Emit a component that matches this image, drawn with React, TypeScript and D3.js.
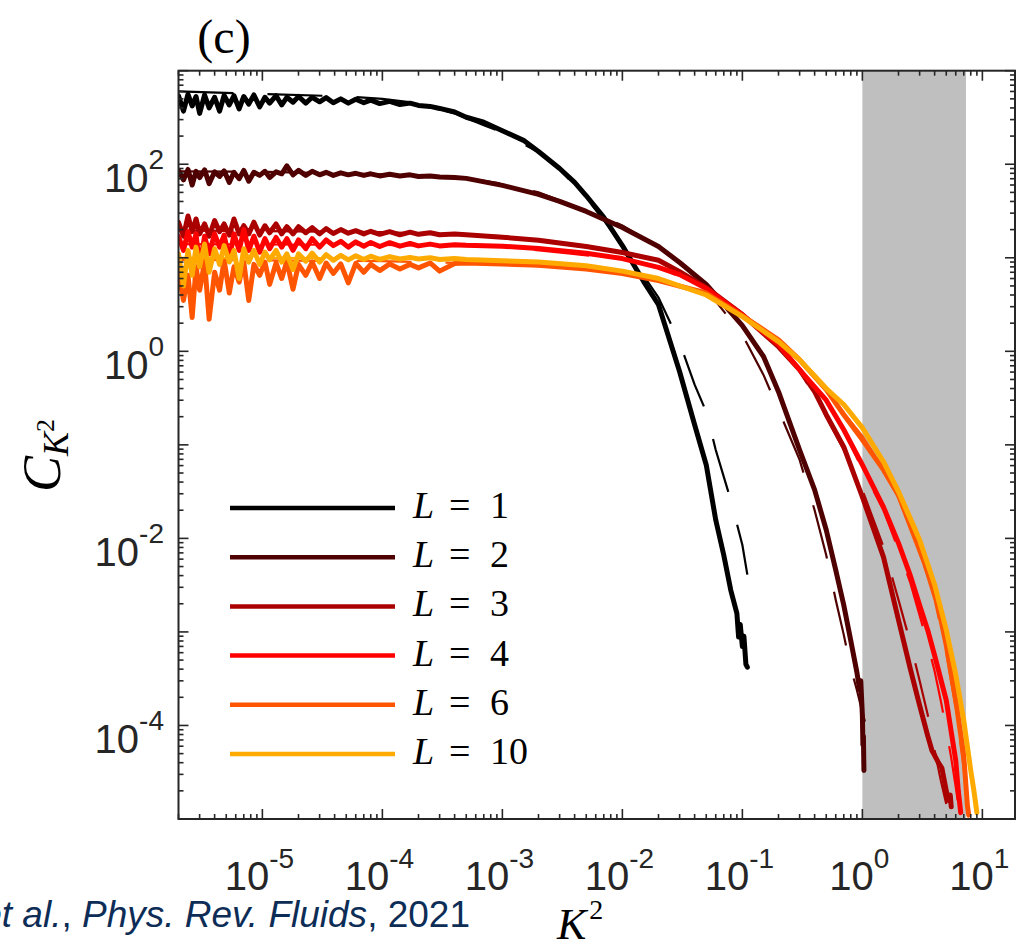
import React from 'react';
import * as d3 from 'd3';

// ---------- data ----------
// shared K^2 sampling of the noisy low-K^2 plateau
const plateauK2 = [2e-6, 2.2e-6, 2.4e-6, 2.6e-6, 2.8e-6, 3e-6, 3.3e-6, 3.6e-6, 4e-6, 4.4e-6, 4.8e-6, 5.3e-6,
  5.8e-6, 6.4e-6, 7e-6, 7.7e-6, 8.5e-6, 9.5e-6, 1.05e-5, 1.15e-5, 1.3e-5, 1.45e-5, 1.6e-5, 1.8e-5,
  2e-5, 2.3e-5, 2.6e-5, 3e-5, 3.4e-5, 3.9e-5, 4.5e-5, 5.2e-5, 6e-5, 7e-5, 8e-5, 9.5e-5,
  1.15e-4, 1.4e-4, 1.7e-4, 2e-4, 2.5e-4, 3e-4, 4e-4];

const L1_plateau = [540, 370, 560, 420, 530, 350, 550, 400, 520, 370, 545, 430, 540, 390, 530, 440, 550, 410, 520, 450, 540, 430, 520, 460, 530, 450, 520, 465, 515, 455, 500, 450, 495, 455, 485, 445, 470, 435, 450, 425, 415, 395, 362];
const L1_tail: [number, number][] = [[5e-4, 318], [7e-4, 281], [1e-3, 228], [1.5e-3, 180], [2e-3, 137], [3e-3, 90], [4e-3, 64], [5e-3, 46], [7e-3, 27], [1e-2, 13.5], [1.5e-2, 5.6], [2e-2, 3.15], [3e-2, 0.605], [4e-2, 0.164], [5e-2, 0.061], [6e-2, 0.0157], [7e-2, 0.0066], [8e-2, 0.0028], [9e-2, 0.00158], [9.3e-2, 8.8e-4], [9.6e-2, 1.2e-3], [0.1, 7e-4], [0.103, 9e-4], [0.107, 4.5e-4], [0.11, 4.2e-4]];
const L1_fit: [number, number][] = [[2e-6, 600], [1e-5, 565], [5e-5, 530], [1e-4, 500], [2e-4, 450], [4e-4, 350], [7e-4, 261], [1e-3, 220], [2e-3, 134], [3e-3, 88], [5e-3, 44], [1e-2, 13.9], [2e-2, 3.75], [3e-2, 1.24], [4e-2, 0.44], [5e-2, 0.225], [6e-2, 0.088], [8e-2, 0.0257], [0.1, 0.0085], [0.11, 0.0041]];

const L2_plateau = [86, 68, 88, 60, 84, 72, 87, 62, 83, 74, 85, 64, 82, 70, 86, 66, 82, 76, 84, 72, 83, 79, 96, 77, 86, 76, 84, 77, 82, 76, 81, 77, 80, 76, 79, 75, 78, 75, 77, 74, 75, 73, 72];
const L2_tail: [number, number][] = [[5e-4, 70.6], [1e-3, 59.4], [2e-3, 47.6], [3e-3, 40], [5e-3, 31.3], [1e-2, 21.1], [2e-2, 13.2], [3e-2, 8.9], [5e-2, 5.2], [0.1, 1.88], [0.15, 0.88], [0.2, 0.37], [0.3, 0.088], [0.4, 0.033], [0.5, 0.0123], [0.6, 0.00457], [0.7, 0.00193], [0.8, 8.1e-4], [0.9, 3.7e-4], [0.95, 2.4e-4], [0.97, 3.0e-4], [1.0, 1.29e-4], [1.01, 6.2e-5], [1.02, 7.7e-5], [1.03, 3.3e-5]];
const L2_fit: [number, number][] = [[2e-6, 84], [1e-5, 83], [1e-4, 78], [5e-4, 71], [1e-3, 62], [2e-3, 50], [5e-3, 32], [1e-2, 22.2], [2e-2, 12.9], [3e-2, 9.1], [5e-2, 4.6], [0.1, 1.5], [0.15, 0.56], [0.2, 0.237], [0.3, 0.069], [0.4, 0.02], [0.5, 0.0066], [0.6, 0.0022], [0.7, 9.3e-4], [0.8, 4.1e-4], [0.9, 2.4e-4], [1.0, 1.38e-4], [1.05, 1.1e-4]];

const L3_plateau = [24, 17, 28, 19, 26, 18, 23, 17, 25, 19, 23, 17.5, 26, 18, 22, 18, 24, 17.5, 22, 18.5, 23, 18, 21.5, 18, 21.5, 18.5, 21, 18, 20.5, 18.2, 20, 18.3, 19.5, 18, 19.2, 17.8, 19, 17.6, 18.8, 17.8, 18.5, 17.6, 18];
const L3_tail: [number, number][] = [[5e-4, 17.6], [1e-3, 16.6], [2e-3, 15.4], [5e-3, 13.2], [1e-2, 11.4], [2e-2, 9.4], [3e-2, 7.1], [5e-2, 4.8], [0.1, 2.47], [0.2, 1.12], [0.3, 0.635], [0.4, 0.37], [0.5, 0.21], [0.7, 0.095], [1, 0.0277], [1.5, 0.0063], [2, 0.00134], [2.5, 4.1e-4], [3, 1.64e-4], [3.5, 7.8e-5], [3.8, 5.4e-5], [4, 4.8e-5], [4.3, 4.0e-5], [4.6, 3.5e-5], [5, 2.0e-5], [5.2, 1.58e-5], [5.4, 1.8e-5], [5.5, 1.35e-5]];
const L3_fit: [number, number][] = [[2e-6, 19.5], [1e-5, 19.3], [1e-4, 18.8], [1e-3, 17], [5e-3, 13.5], [1e-2, 11.6], [2e-2, 9.5], [5e-2, 4.9], [0.1, 2.5], [0.2, 1.1], [0.3, 0.62], [0.5, 0.2], [0.7, 0.088], [1, 0.033], [1.5, 0.0081], [2, 0.0022], [2.5, 7.8e-4], [3, 3.0e-4], [3.5, 1.31e-4], [4, 5.4e-5], [4.5, 2.6e-5], [5, 1.45e-5]];

const L4_plateau = [17, 12, 19, 13, 18, 8, 17, 11, 18, 13, 17.5, 9.5, 18, 12, 20, 12, 17, 11.5, 16, 12.5, 16.5, 13, 16, 12, 15.5, 12.5, 16, 13, 15.5, 13.5, 15, 13, 14.8, 13.3, 14.6, 13.2, 14.5, 13.3, 14.2, 13.4, 14, 13.4, 13.8];
const L4_tail: [number, number][] = [[5e-4, 13.6], [1e-3, 13.3], [2e-3, 12.6], [5e-3, 11.2], [1e-2, 9.8], [2e-2, 7.9], [3e-2, 6.6], [5e-2, 4.7], [0.1, 2.45], [0.2, 1.18], [0.3, 0.635], [0.5, 0.30], [0.7, 0.145], [1, 0.061], [1.5, 0.0216], [2, 0.0089], [2.5, 0.00405], [3, 0.00193], [3.5, 0.00105], [4, 5.6e-4], [5, 1.86e-4], [6, 4.2e-5], [6.3, 2.0e-5], [6.6, 1.17e-5]];
const L4_fit: [number, number][] = [[2e-6, 14], [1e-4, 13.7], [1e-3, 13.2], [1e-2, 9.7], [2e-2, 8.0], [5e-2, 4.6], [0.1, 2.55], [0.2, 1.17], [0.3, 0.64], [0.5, 0.29], [0.7, 0.14], [1, 0.055], [1.5, 0.02], [2, 0.0075], [2.5, 0.0034], [3, 0.0015], [3.5, 7.5e-4], [4, 3.8e-4], [4.5, 1.85e-4], [5, 9e-5], [5.5, 4.5e-5], [6, 2.2e-5], [6.5, 1.05e-5]];

const L6_plateau = [7, 3.5, 6.5, 2.3, 8, 4.5, 9, 2.2, 7, 4.5, 9.5, 4.2, 8, 5.5, 9, 3.5, 8.5, 6.5, 9, 5.2, 8.8, 6, 9.2, 4.6, 8.5, 6.5, 9, 6, 8.8, 6.8, 8.6, 5.4, 8.7, 7, 8.5, 7.3, 8.6, 7.6, 8.5, 7.8, 8.8, 7.2, 8.7];
const L6_tail: [number, number][] = [[5e-4, 8.8], [1e-3, 8.6], [2e-3, 8.3], [5e-3, 7.6], [1e-2, 6.8], [2e-2, 5.7], [5e-2, 4.2], [0.1, 2.4], [0.2, 1.33], [0.3, 0.81], [0.5, 0.39], [0.7, 0.21], [1, 0.113], [1.5, 0.054], [2, 0.029], [3, 0.0075], [4, 0.0028], [5, 7.2e-4], [6, 1.86e-4], [7, 4.7e-5], [7.5, 1.4e-5], [7.7, 1.1e-5]];
const L6_fit: [number, number][] = [[2e-6, 9.5], [1e-4, 9.2], [1e-3, 8.6], [5e-3, 7.6], [1e-2, 6.8], [2e-2, 5.8], [5e-2, 4.2], [0.1, 2.5], [0.2, 1.35], [0.3, 0.82], [0.5, 0.42], [0.7, 0.22], [1, 0.125], [1.5, 0.055], [2, 0.027], [3, 0.0072], [4, 0.0022], [5, 6e-4], [6, 1.5e-4], [7, 3.4e-5], [7.5, 1.5e-5]];

const L10_plateau = [11, 5, 12, 6.5, 13, 8, 14, 7, 12.5, 8.5, 13.5, 9, 12, 6, 12.5, 9, 12, 8.5, 11.5, 9.5, 12, 9, 11, 7.5, 11, 9.2, 11.2, 9, 10.8, 9.4, 10.6, 9.5, 10.5, 9.6, 10.4, 9.6, 10.3, 9.7, 10.1, 9.7, 10, 9.6, 9.8];
const L10_tail: [number, number][] = [[5e-4, 9.6], [1e-3, 9.3], [2e-3, 9.0], [5e-3, 8.2], [1e-2, 7.2], [2e-2, 6.0], [5e-2, 4.0], [0.1, 2.35], [0.2, 1.27], [0.3, 0.81], [0.5, 0.40], [0.7, 0.27], [1, 0.152], [1.5, 0.066], [2, 0.0315], [3, 0.0096], [4, 0.0032], [5, 0.00105], [6, 3.5e-4], [7, 1.13e-4], [8, 3.3e-5], [8.5, 2.0e-5], [9, 1.17e-5]];
const L10_fit: [number, number][] = [[2e-6, 10], [1e-4, 9.9], [1e-3, 9.4], [5e-3, 8.2], [1e-2, 7.2], [2e-2, 6.0], [5e-2, 4.1], [0.1, 2.4], [0.2, 1.3], [0.3, 0.82], [0.5, 0.42], [0.7, 0.26], [1, 0.16], [1.5, 0.068], [2, 0.034], [3, 0.0105], [4, 0.0033], [5, 0.001], [6, 3.2e-4], [7, 1e-4], [8, 3e-5], [9, 1e-5]];

const seriesLabels = ['1', '2', '3', '4', '6', '10'];
const seriesColors = ['#000000', '#4f0000', '#aa0000', '#ff0000', '#ff5500', '#ffaa00'];

const xTickExps = [-5, -4, -3, -2, -1, 0, 1];
const yLabelExps = [-4, -2, 0, 2];
const shadedBand = [1, 7.3];

// ---------- layout ----------
const W = 1017, H = 944;
const PL = 178.5, PR = 1015, PT = 70.7, PB = 819;

const x = d3.scaleLog().domain([2e-6, 18.7]).range([PL, PR]);
const y = d3.scaleLog().domain([1e-5, 1e3]).range([PB, PT]);

const line = d3.line<[number, number]>().x(d => x(d[0])).y(d => y(d[1]));

const mk = (plateau: number[], tail: [number, number][]) =>
  (plateauK2.map((k, i) => [k, plateau[i]] as [number, number])).concat(tail);

const series = [
  { data: mk(L1_plateau, L1_tail), fit: L1_fit },
  { data: mk(L2_plateau, L2_tail), fit: L2_fit },
  { data: mk(L3_plateau, L3_tail), fit: L3_fit },
  { data: mk(L4_plateau, L4_tail), fit: L4_fit },
  { data: mk(L6_plateau, L6_tail), fit: L6_fit },
  { data: mk(L10_plateau, L10_tail), fit: L10_fit },
].map((s, i) => ({ ...s, color: seriesColors[i], label: seriesLabels[i] }));

const AX = '#262626';
const SANS = '"Liberation Sans", Arial, Helvetica, sans-serif';
const SERIF = '"Liberation Serif", "Times New Roman", serif';

function logTicks(lo: number, hi: number, e0: number, e1: number) {
  const out: { v: number; major: boolean }[] = [];
  for (let e = e0; e <= e1; e++) {
    for (let m = 1; m <= 9; m++) {
      const v = m * Math.pow(10, e);
      if (v >= lo * 0.999 && v <= hi * 1.001) out.push({ v, major: m === 1 });
    }
  }
  return out;
}

export default function App() {
  const xt = logTicks(2e-6, 18.7, -6, 1);
  const yt = logTicks(1e-5, 1e3, -5, 3);
  return (
    <svg width={W} height={H} viewBox={`0 0 ${W} ${H}`}
      style={{ position: 'absolute', left: 0, top: 0, display: 'block', background: '#fff' }}>
      <defs>
        <clipPath id="plotclip">
          <rect x={PL} y={PT} width={PR - PL} height={PB - PT} />
        </clipPath>
      </defs>
      <rect x={0} y={0} width={W} height={H} fill="#fff" />
      {/* shaded band */}
      <rect x={x(shadedBand[0])} y={PT} width={x(shadedBand[1]) - x(shadedBand[0])} height={PB - PT} fill="#bfbfbf" />

      <g clipPath="url(#plotclip)" fill="none">
        {series.map((s, i) => (
          <g key={i}>
            <path d={line(s.data) || ''} stroke={s.color} strokeWidth={5} strokeLinejoin="round" strokeLinecap="round" />
            <path d={line(s.fit) || ''} stroke={s.color} strokeWidth={2.2} strokeDasharray="55 34" />
          </g>
        ))}
      </g>

      {/* ticks */}
      <g stroke={AX} strokeWidth={1.6}>
        {xt.map((t, i) => {
          const px = x(t.v);
          const len = t.major ? 10 : 5;
          return (
            <g key={'xt' + i}>
              <line x1={px} x2={px} y1={PB} y2={PB - len} />
              <line x1={px} x2={px} y1={PT} y2={PT + len} />
            </g>
          );
        })}
        {yt.map((t, i) => {
          const py = y(t.v);
          const len = t.major ? 10 : 5;
          return (
            <g key={'yt' + i}>
              <line x1={PL} x2={PL + len} y1={py} y2={py} />
              <line x1={PR} x2={PR - len} y1={py} y2={py} />
            </g>
          );
        })}
      </g>
      {/* axes box */}
      <rect x={PL} y={PT} width={PR - PL} height={PB - PT} fill="none" stroke={AX} strokeWidth={2} />

      {/* x tick labels */}
      {xTickExps.map(e => (
        <text key={'xl' + e} x={x(Math.pow(10, e)) - 3} y={890} textAnchor="middle"
          fontFamily={SANS} fontSize={40} fill={AX}>
          <tspan>10</tspan>
          <tspan fontSize={28} dy={-22}>{String(e)}</tspan>
        </text>
      ))}
      {/* y tick labels */}
      {yLabelExps.map(e => (
        <text key={'yl' + e} x={164} y={y(Math.pow(10, e)) + 28} textAnchor="end"
          fontFamily={SANS} fontSize={40} fill={AX}>
          <tspan>10</tspan>
          <tspan fontSize={28} dy={-23}>{String(e)}</tspan>
        </text>
      ))}

      {/* panel label */}
      <text x={224} y={53} textAnchor="middle" fontFamily={SERIF} fontSize={48} fill="#000">(c)</text>

      {/* y axis label */}
      <text transform="translate(60,492) rotate(-90)" fontFamily={SERIF} fill="#000">
        <tspan fontSize={54} fontStyle="italic">C</tspan>
        <tspan fontSize={36} fontStyle="italic" dy={8}>K</tspan>
        <tspan fontSize={26} dy={-14}>2</tspan>
      </text>

      {/* x axis label */}
      <text x={557} y={939} fontFamily={SERIF} fill="#000">
        <tspan fontSize={44} fontStyle="italic">K</tspan>
        <tspan fontSize={28} dy={-20} dx={3}>2</tspan>
      </text>

      {/* legend */}
      {series.map((s, i) => {
        const ly = 508 + i * 49.2;
        return (
          <g key={'lg' + i}>
            <line x1={230} x2={395} y1={ly} y2={ly} stroke={s.color} strokeWidth={4.5} />
            <text y={ly + 10} fontFamily={SERIF} fontSize={38} fill="#000">
              <tspan x={413} fontStyle="italic">L</tspan>
              <tspan x={449}>=</tspan>
              <tspan x={490}>{s.label}</tspan>
            </text>
          </g>
        );
      })}

      {/* citation */}
      <text x={470} y={927} textAnchor="end" fontFamily={SANS} fontSize={37} fill="#0d2d57">
        <tspan fontStyle="italic">et al.</tspan>
        <tspan>, </tspan>
        <tspan fontStyle="italic">Phys. Rev. Fluids</tspan>
        <tspan>, 2021</tspan>
      </text>
    </svg>
  );
}
